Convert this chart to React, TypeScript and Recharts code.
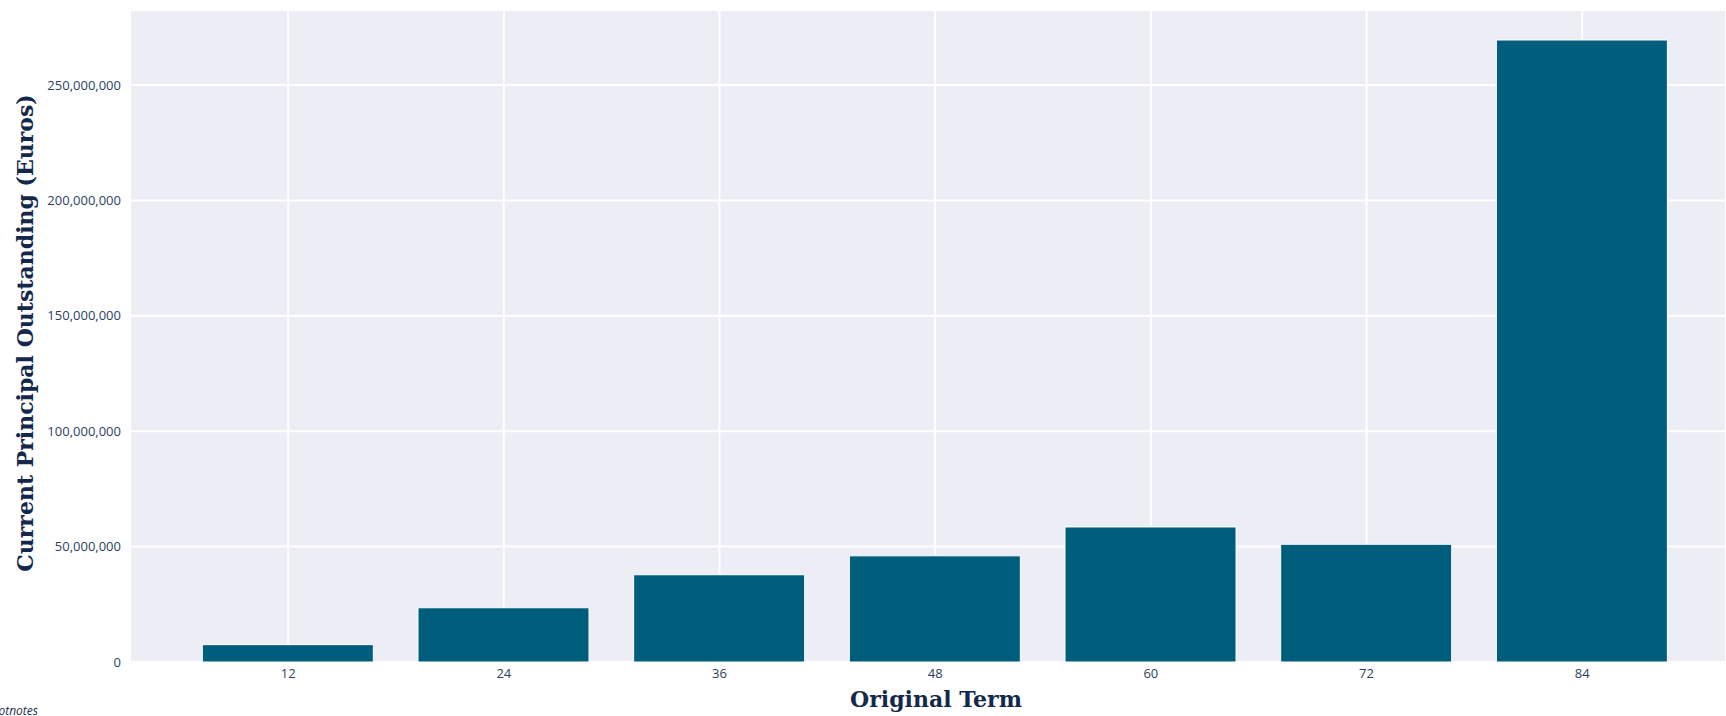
import React from 'react';
import { BarChart, Bar, XAxis, YAxis, CartesianGrid, Label } from 'recharts';

const terms = [12, 24, 36, 48, 60, 72, 84];
const principal = [7520000, 23500000, 37800000, 46000000, 58500000, 51000000, 269500000];
const yTicks = [0, 50000000, 100000000, 150000000, 200000000, 250000000];

const data = terms.map((term, i) => ({ term, principal: principal[i] }));

const BAR_COLOR = '#005e7d';
const PLOT_BG = '#ecedf5';
const TITLE_COLOR = '#14284b';
const TICK_COLOR = '#2a3f5f';

const tickStyle = { fontFamily: '"Open Sans", sans-serif', fontSize: 13, fill: TICK_COLOR };
const titleStyle = { fontFamily: '"DejaVu Serif", serif', fontSize: 22, fontWeight: 700, fill: TITLE_COLOR };

const YTitle = () => (
    <text
        x={25}
        y={333}
        transform="rotate(-90, 25, 333)"
        textAnchor="middle"
        dominantBaseline="central"
        style={titleStyle}
    >
        Current Principal Outstanding (Euros)
    </text>
);

const XTitle = () => (
    <text x={936} y={707} textAnchor="middle" style={titleStyle}>
        Original Term
    </text>
);

const App: React.FC = () => {
    return (
        <div style={{ position: 'absolute', left: 0, top: 0, width: 1726, height: 716, overflow: 'hidden', background: '#ffffff' }}>
            <BarChart width={1726} height={716} data={data} margin={{ top: 10, right: 0, bottom: 0, left: 0 }}>
                <CartesianGrid stroke="#ffffff" strokeWidth={2} fill={PLOT_BG} />
                <XAxis
                    dataKey="term"
                    type="number"
                    domain={[3.2, 92]}
                    ticks={terms}
                    height={54}
                    axisLine={false}
                    tickLine={false}
                    tickSize={0}
                    tickMargin={7}
                    tick={tickStyle}
                >
                    <Label content={<XTitle />} />
                </XAxis>
                <YAxis
                    type="number"
                    domain={[0, 282500000]}
                    ticks={yTicks}
                    width={130}
                    axisLine={false}
                    tickLine={false}
                    tickSize={0}
                    tickMargin={9}
                    tick={tickStyle}
                    tickFormatter={(v: number) => v.toLocaleString('en-US')}
                >
                    <Label content={<YTitle />} />
                </YAxis>
                <Bar dataKey="principal" fill={BAR_COLOR} stroke="#ffffff" strokeWidth={1} barSize={171} isAnimationActive={false} />
            </BarChart>
            <div
                style={{
                    position: 'absolute',
                    left: -14,
                    top: 702,
                    fontFamily: '"Open Sans", sans-serif',
                    fontStyle: 'italic',
                    fontSize: 12,
                    color: '#1f2f4f',
                }}
            >
                Footnotes
            </div>
        </div>
    );
};

export default App;
